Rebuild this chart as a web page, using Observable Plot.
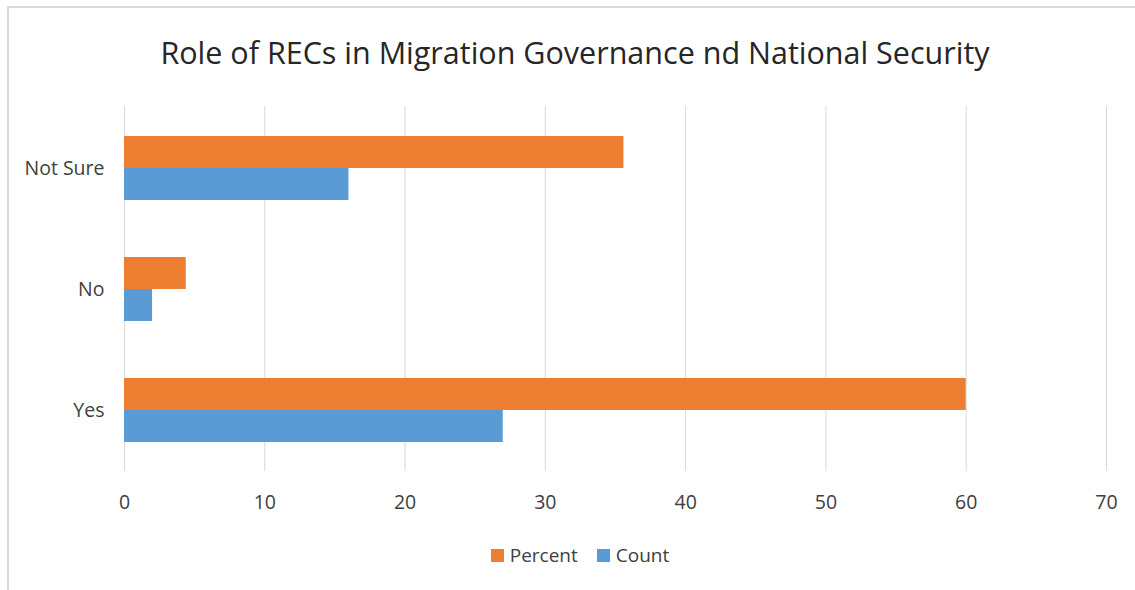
<!DOCTYPE html>
<html>
<head>
<meta charset="utf-8">
<script src="https://cdn.jsdelivr.net/npm/d3@7"></script>
<script src="https://cdn.jsdelivr.net/npm/@observablehq/plot@0.6"></script>
<style>
  html, body { margin: 0; padding: 0; background: #fff; }
  #wrap { position: relative; width: 1135px; height: 590px; overflow: hidden; font-family: "Open Sans", sans-serif; }
  #frame { position: absolute; left: 7px; top: 6px; width: 1200px; height: 700px; border-top: 2px solid #d9d9d9; border-left: 2px solid #d9d9d9; box-sizing: border-box; }
  #title { position: absolute; left: 0; width: 1150px; top: 31px; text-align: center; font-size: 30.5px; color: #262626; white-space: nowrap; }
  #chart { position: absolute; left: 0; top: 0; }
  #legend { position: absolute; top: 542px; left: 0; width: 1160px; display: flex; justify-content: center; gap: 19px; font-size: 19px; color: #404040; }
  .item { display: flex; align-items: center; gap: 6px; }
  .sw { width: 13px; height: 13px; display: inline-block; }
</style>
</head>
<body>
<div id="wrap">
  <div id="frame"></div>
  <div id="title">Role of RECs in Migration Governance nd National Security</div>
  <div id="chart"></div>
  <div id="legend"></div>
</div>
<script>
// Responses on the role of RECs
const categories = ["Not Sure", "No", "Yes"];
const percentValues = [35.6, 4.4, 60];
const countValues = [16, 2, 27];
const seriesNames = ["Percent", "Count"];
const seriesColors = ["#ED7D31", "#5B9BD5"];
const xTicks = [0, 10, 20, 30, 40, 50, 60, 70];

const percentRows = categories.map((c, i) => ({category: c, value: percentValues[i]}));
const countRows = categories.map((c, i) => ({category: c, value: countValues[i]}));

const chart = Plot.plot({
  width: 1135,
  height: 590,
  marginTop: 106,
  marginBottom: 119,
  marginLeft: 124,
  marginRight: 29,
  style: {fontFamily: "Open Sans, sans-serif", fontSize: "19.5px", color: "#404040", background: "transparent"},
  x: {domain: [0, 70], ticks: xTicks, tickSize: 0, tickPadding: 24, label: null},
  y: {domain: categories, paddingInner: 0.474, paddingOuter: 0.237, tickSize: 0, tickPadding: 20, label: null},
  marks: [
    Plot.gridX(xTicks, {stroke: "#d9d9d9", strokeOpacity: 1, strokeWidth: 1}),
    // upper half of each band: Percent, lower half: Count
    Plot.barX(percentRows, {x: "value", y: "category", fill: seriesColors[0], insetBottom: 32}),
    Plot.barX(countRows, {x: "value", y: "category", fill: seriesColors[1], insetTop: 32})
  ]
});
document.getElementById("chart").appendChild(chart);

const legend = document.getElementById("legend");
seriesNames.forEach((name, i) => {
  const item = document.createElement("div");
  item.className = "item";
  const sw = document.createElement("span");
  sw.className = "sw";
  sw.style.background = seriesColors[i];
  const label = document.createElement("span");
  label.textContent = name;
  item.appendChild(sw);
  item.appendChild(label);
  legend.appendChild(item);
});
</script>
</body>
</html>
